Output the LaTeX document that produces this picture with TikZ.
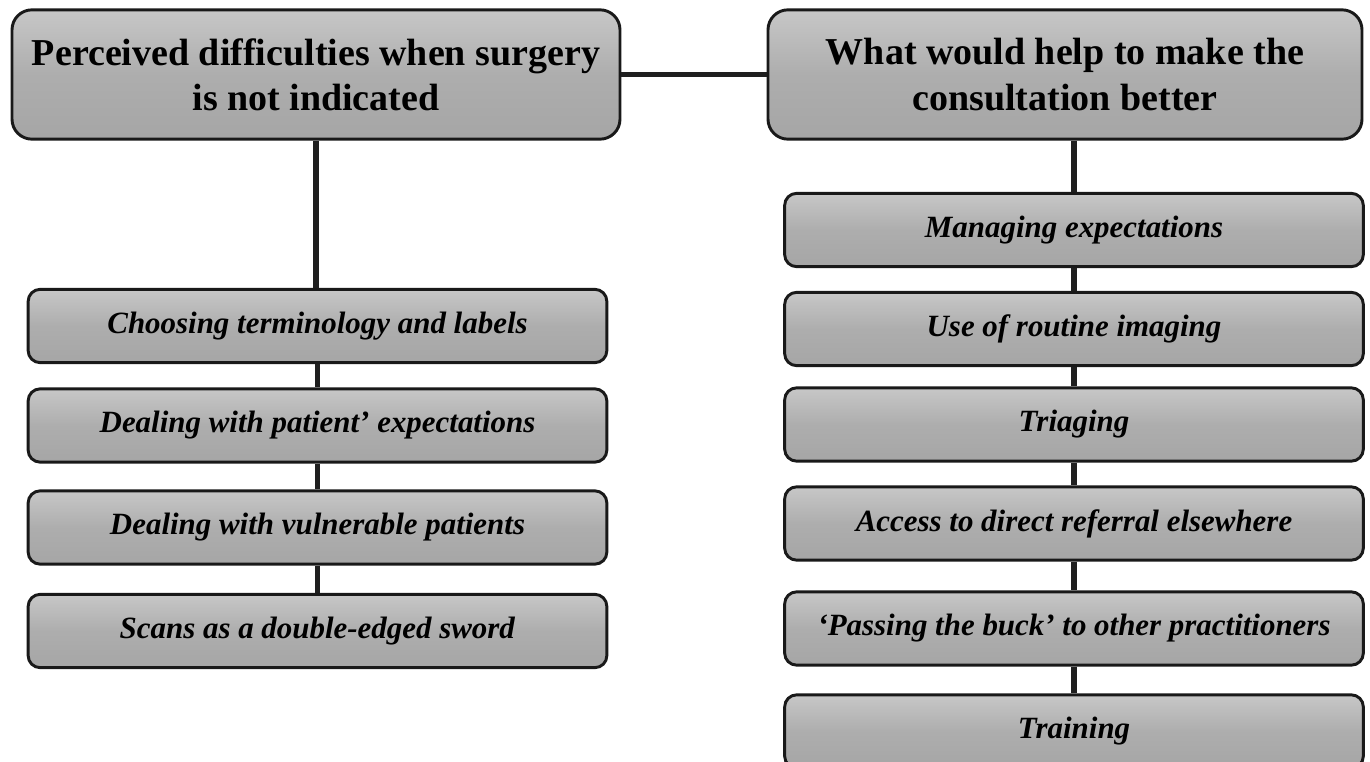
\documentclass[tikz,border=0pt]{standalone}
\usepackage{fontspec}
\setmainfont{Liberation Serif}
\newcommand{\headnode}[4]{\node(#1)[head,minimum width=#2] at (#3){#4}}
\newcommand{\itemnode}[3]{\node(#1)[item] at (#2){\textit{#3}}}

\begin{document}
\begin{tikzpicture}[
        x=0.75pt, y=-0.75pt,
        box/.style={rectangle,draw=black!90,line width=2.2pt,
                    top color=black!22,bottom color=black!35,middle color=black!32},
        head/.style={box,rounded corners=15pt,minimum height=97pt,align=center,
                     font=\fontsize{28.5}{34}\selectfont\bfseries},
        item/.style={box,rounded corners=9pt,minimum width=434pt,minimum height=55pt,
                     inner sep=0pt,font=\fontsize{23.2}{26}\selectfont\bfseries},
        link/.style={line width=3.9pt,draw=black!88}
      ]
      \path[use as bounding box,clip] (0,0) rectangle (1370,761);
      % headers
      \headnode{lhead}{456pt}{316,74.5}{Perceived difficulties when surgery\\is not indicated};
      \headnode{rhead}{445.5pt}{1065,74.5}{What would help to make the\\consultation better};
      % left column
      \itemnode{l1}{317.5,326}{Choosing terminology and labels};
      \itemnode{l2}{317.5,425.5}{Dealing with patient’ expectations};
      \itemnode{l3}{317.5,527.5}{Dealing with vulnerable patients};
      \itemnode{l4}{317.5,631}{Scans as a double-edged sword};
      % right column
      \itemnode{r1}{1074,230}{Managing expectations};
      \itemnode{r2}{1074,329}{Use of routine imaging};
      \itemnode{r3}{1074,424.5}{Triaging};
      \itemnode{r4}{1074,523.5}{Access to direct referral elsewhere};
      \itemnode{r5}{1074,628.5}{‘Passing the buck’ to other practitioners};
      \itemnode{r6}{1074,731.5}{Training};
      % connectors
      \draw[link] (lhead.east) -- (rhead.west);
      \draw[link] (lhead.south) -- (lhead.south |- l1.north);
      \draw[link] (r1.north |- rhead.south) -- (r1.north);
      \foreach \a/\b in {l1/l2,l2/l3,l3/l4,r1/r2,r2/r3,r3/r4,r4/r5,r5/r6}
        \draw[link] (\a.south) -- (\b.north);
\end{tikzpicture}
\end{document}
